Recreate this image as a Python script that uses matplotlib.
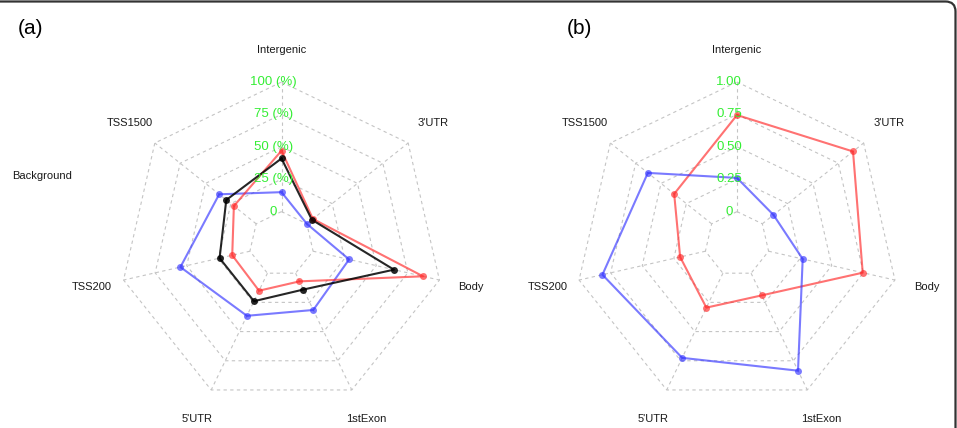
#!/usr/bin/env python
#
# Radar charts of methylation site distribution over gene regions
#
import numpy as np
import matplotlib
matplotlib.use('Agg')
import matplotlib.pyplot as plt
from matplotlib.patches import FancyBboxPatch

plt.rcParams['font.family'] = ['Liberation Sans', 'DejaVu Sans']

regions = ['Intergenic', "3'UTR", 'Body', '1stExon', "5'UTR", 'TSS200', 'TSS1500']

# Panel (a), percentages
a_red = [47, 6, 87, 7, 15, 14, 22]
a_black = [41, 5, 64, 14, 24, 24, 29.5]
a_blue = [15, 0, 28.5, 31.5, 36.5, 55, 36.5]
a_ticks = ['0', '25 (%)', '50 (%)', '75 (%)', '100 (%)']
a_max = 100

# Panel (b), fractions
b_red = [0.745, 0.895, 0.745, 0.19, 0.295, 0.20, 0.37]
b_blue = [0.26, 0.11, 0.27, 0.835, 0.725, 0.815, 0.63]
b_ticks = ['0', '0.25', '0.50', '0.75', '1.00']
b_max = 1.0

red = (1.0, 0.15, 0.15, 0.65)
blue = (0.2, 0.2, 1.0, 0.65)
black = (0.0, 0.0, 0.0, 0.85)
green = '#33ee33'
gridc = '#c4c4c4'

W, H = 957, 428
R = 162.0
cy = 244.0
seg = 4
n = len(regions)
theta = np.arange(n) * 2 * np.pi / n   # clockwise from the top
ux, uy = np.sin(theta), np.cos(theta)


def radius(values, vmax):
    v = np.asarray(values, dtype=float) / vmax
    return (1 + seg * v) / (seg + 1)


def radar(cx, x0, x1, series, vmax, ticks):
    ax = fig.add_axes([x0 / W, 0, (x1 - x0) / W, (H - 28) / H])
    ax.set_xlim((x0 - cx) / R, (x1 - cx) / R)
    ax.set_ylim(-(H - cy) / R, (cy - 28) / R)
    ax.axis('off')

    # grid rings and spokes
    for i in range(seg + 1):
        r = (i + 1) / (seg + 1)
        ax.plot(np.append(ux, ux[0]) * r, np.append(uy, uy[0]) * r,
                color=gridc, lw=0.8, ls=(0, (3, 3)), zorder=1)
    for x, y in zip(ux, uy):
        ax.plot([x / (seg + 1), x], [y / (seg + 1), y],
                color=gridc, lw=0.8, ls=(0, (3, 3)), zorder=1)

    for values, color in series:
        r = radius(values, vmax)
        xs, ys = ux * r, uy * r
        ax.plot(np.append(xs, xs[0]), np.append(ys, ys[0]), color=color,
                lw=1.5, zorder=3)
        ax.plot(xs, ys, 'o', color=color, ms=5, mew=0, zorder=4)

    for i, t in enumerate(ticks):
        ax.text(-0.05, (i + 1) / (seg + 1), t, color=green, fontsize=9.5,
                ha='center', va='center', zorder=5)

    for name, x, y in zip(regions, ux, uy):
        ax.text(1.2 * x, 1.2 * y, name, fontsize=8, ha='center',
                va='center', color='#1a1a1a')
    return ax


fig = plt.figure(figsize=(W / 100, H / 100), dpi=100)

radar(281.5, 0, 478, [(a_blue, blue), (a_red, red), (a_black, black)],
      a_max, a_ticks)
radar(737.0, 478, 957, [(b_red, red), (b_blue, blue)], b_max, b_ticks)

fig.text(12 / W, 1 - 176 / H, 'Background', fontsize=8, ha='left',
         va='center', color='#1a1a1a')
fig.text(18 / W, 1 - 28 / H, '(a)', fontsize=15, ha='left', va='center')
fig.text(567 / W, 1 - 28 / H, '(b)', fontsize=15, ha='left', va='center')

# rounded frame, cut at the left and bottom edges
frame = FancyBboxPatch((-30, -30), 985.5, H - 1.5 + 30,
                       boxstyle='round,pad=0,rounding_size=10',
                       transform=None, fill=False, ec='#333333', lw=1.6)
fig.patches.append(frame)

fig.savefig('out.png', dpi=100)
print('done')
